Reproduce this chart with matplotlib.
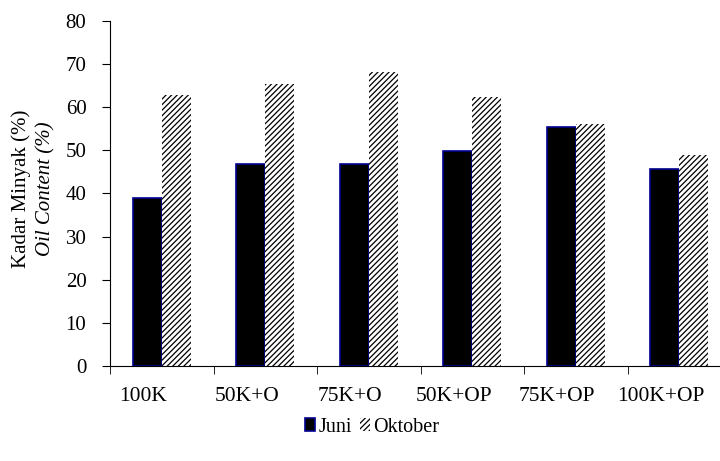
import numpy as np
import matplotlib.pyplot as plt

plt.rcParams['font.family'] = ['Liberation Serif', 'DejaVu Serif']
plt.rcParams['hatch.linewidth'] = 0.9

#----------------------------------------------------------------------

categories = ["100K", "50K+O", "75K+O", "50K+OP", "75K+OP", "100K+OP"]
juni = [39.0, 46.9, 46.8, 49.9, 55.5, 45.7]
oktober = [62.9, 65.4, 68.1, 62.4, 56.1, 49.0]
yticks = [0, 10, 20, 30, 40, 50, 60, 70, 80]

#----------------------------------------------------------------------

fig = plt.figure(figsize=(7.2, 4.61), dpi=100)
ax = fig.add_axes([110/720, 95/461, 621/720, 345/461])

x = np.arange(len(categories))
w = 0.28
ax.bar(x - w/2, juni, width=w, color="black", edgecolor="#000090",
       linewidth=1.2, label="Juni")
ax.bar(x + w/2, oktober, width=w, color="white", edgecolor="black",
       linewidth=0, hatch="//////", label="Oktober")

ax.set_xlim(-0.5, len(categories) - 0.5)
ax.set_ylim(0, 80)
ax.set_yticks(yticks)

# tick marks between groups, labels shifted a little to the left
ax.set_xticks(np.arange(len(categories)) - 0.5, minor=True)
ax.set_xticks(x - 0.18)
ax.set_xticklabels(categories, fontsize=15.5)
ax.tick_params(axis="x", which="major", length=0, pad=15)
ax.tick_params(axis="x", which="minor", length=6, direction="out")
ax.tick_params(axis="y", labelsize=15, length=6, direction="out", pad=11)

for s in ["top", "right"]:
    ax.spines[s].set_visible(False)

fig.text(0.029, 0.59, "Kadar Minyak (%)", rotation=90, fontsize=15,
         ha="center", va="center")
fig.text(0.063, 0.59, "Oil Content (%)", rotation=90, fontsize=15,
         style="italic", ha="center", va="center")

fig.legend(loc="center", bbox_to_anchor=(372/720, 1 - 427/461), ncol=2,
           frameon=False, fontsize=14.5, handlelength=0.5, handleheight=0.65,
           handletextpad=0.15, columnspacing=0.4)

fig.savefig("out.png", dpi=100)
